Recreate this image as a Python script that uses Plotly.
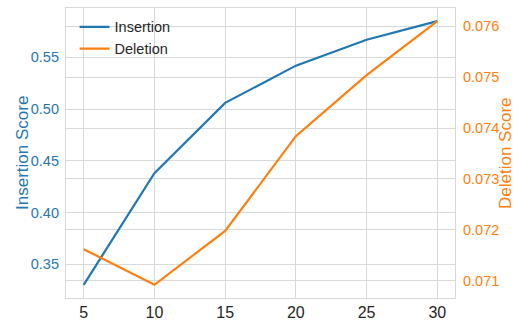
import plotly.graph_objects as go

k_values = [5, 10, 15, 20, 25, 30]
insertion = [0.330, 0.438, 0.506, 0.542, 0.567, 0.585]
deletion = [0.07162, 0.07092, 0.07198, 0.07384, 0.07504, 0.07610]
x_ticks = [5, 10, 15, 20, 25, 30]
ins_ticks = [0.35, 0.40, 0.45, 0.50, 0.55]
del_ticks = [0.071, 0.072, 0.073, 0.074, 0.075, 0.076]

BLUE = "#1f77b4"
ORANGE = "#ff7f0e"
GRID = "#d9d9d9"
FONT = "Liberation Sans, Arial, sans-serif"

fig = go.Figure()
fig.add_trace(go.Scatter(x=k_values, y=insertion, name="Insertion", mode="lines",
                         line=dict(color=BLUE, width=2.2), yaxis="y"))
fig.add_trace(go.Scatter(x=k_values, y=deletion, name="Deletion", mode="lines",
                         line=dict(color=ORANGE, width=2.2), yaxis="y2"))

def pad(lo, hi, f=0.05):
    d = hi - lo
    return [lo - f * d, hi + f * d]

L, R, T, B = 66, 61, 8, 22
PW = 516 - L - R

fig.update_layout(
    width=516, height=320,
    margin=dict(l=L, r=R, t=T, b=B, autoexpand=False),
    paper_bgcolor="white", plot_bgcolor="white",
    font=dict(family=FONT, color="#262626"),
    showlegend=True,
    legend=dict(x=0.022, y=0.99, xanchor="left", yanchor="top",
                bgcolor="rgba(0,0,0,0)", font=dict(size=14.5, color="#262626"),
                tracegroupgap=0, itemwidth=30),
    xaxis=dict(range=pad(5, 30), tickvals=x_ticks, showgrid=True, gridcolor=GRID, gridwidth=1.2,
               showline=True, linecolor=GRID, linewidth=1.2, mirror=True, zeroline=False,
               ticks="", automargin=False,
               tickfont=dict(size=16, color="#262626")),
    yaxis=dict(range=pad(min(insertion), max(insertion)), tickvals=ins_ticks, tickformat=".2f",
               showgrid=True, gridcolor=GRID, gridwidth=1.2, zeroline=False,
               showline=True, linecolor=GRID, linewidth=1.2, automargin=False,
               ticks="outside", ticklen=3, tickcolor="rgba(0,0,0,0)",
               tickfont=dict(size=14.5, color=BLUE)),
    yaxis2=dict(range=pad(min(deletion), max(deletion)), tickvals=del_ticks, tickformat=".3f",
                overlaying="y", side="right", automargin=False,
                showgrid=True, gridcolor=GRID, gridwidth=1.2, zeroline=False,
                showline=True, linecolor=GRID, linewidth=1.2,
                ticks="outside", ticklen=4, tickcolor="rgba(0,0,0,0)",
                tickfont=dict(size=14.5, color=ORANGE)),
    annotations=[
        dict(text="Insertion Score", xref="paper", yref="paper", x=(22 - L) / PW, y=0.5,
             xanchor="center", yanchor="middle", textangle=-90, showarrow=False,
             font=dict(size=17, color=BLUE)),
        dict(text="Deletion Score", xref="paper", yref="paper", x=(505 - L) / PW, y=0.5,
             xanchor="center", yanchor="middle", textangle=-90, showarrow=False,
             font=dict(size=17, color=ORANGE)),
    ],
)

fig.write_html("out.html", config={"displayModeBar": False},
               post_script="document.body.style.margin='0';")
